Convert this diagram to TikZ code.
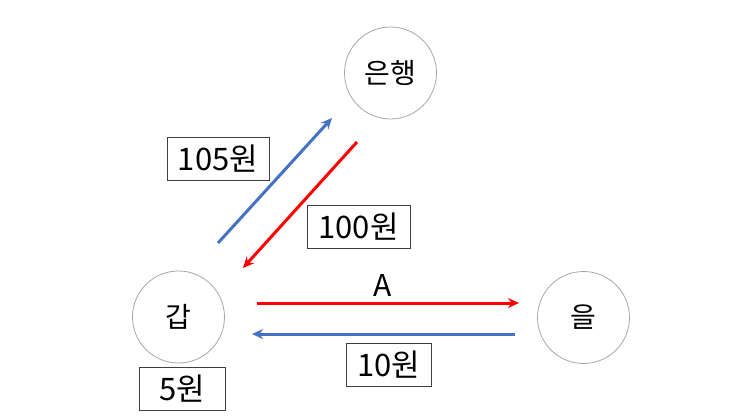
\documentclass[tikz,border=0pt]{standalone}
\usepackage{fontspec}
\setmainfont{Noto Sans CJK KR}
\usetikzlibrary{arrows.meta}
\definecolor{pblue}{HTML}{4472C4}
\definecolor{pred}{HTML}{FF0000}
\tikzset{
  party/.style={circle, draw=gray!70, line width=0.8pt, minimum size=92pt, inner sep=0pt, font=\fontsize{28}{32}\selectfont},
  amount/.style={draw=black!75, line width=0.8pt, minimum height=43pt, inner sep=0pt, font=\fontsize{31}{34}\selectfont},
  flow/.style={line width=3pt, -{Stealth[length=11pt,width=10pt]}},
}
\begin{document}
\begin{tikzpicture}[x=1pt,y=-1pt]
\useasboundingbox (0,0) rectangle (743,418);
\node[party] (bank) at (390.5,73) {은행};
\node[party] (gap) at (178.5,317) {갑};
\node[party] (eul) at (583.5,317.5) {을};

\coordinate (b1s) at (218,243);
\coordinate (b1e) at (332,118);
\coordinate (r1s) at (357,142);
\coordinate (r1e) at (243,268);
\coordinate (r2s) at (257,303);
\coordinate (r2e) at (519,303);
\coordinate (b2s) at (515,334);
\coordinate (b2e) at (252,334);

\draw[flow, pblue] (b1s) -- (b1e);
\draw[flow, pred] (r1s) -- (r1e);
\draw[flow, pred] (r2s) -- (r2e);
\draw[flow, pblue] (b2s) -- (b2e);

\node[amount, minimum width=102pt] (l105) at (218,158.5) {105원};
\node[amount, minimum width=103pt] (l100) at (358.5,226.5) {100원};
\node[font=\fontsize{30}{34}\selectfont] (la) at (383,285) {A};
\node[amount, minimum width=85pt] (l10) at (388.5,364.5) {10원};
\node[amount, minimum width=86pt] (l5) at (182,388.5) {5원};
\end{tikzpicture}
\end{document}
